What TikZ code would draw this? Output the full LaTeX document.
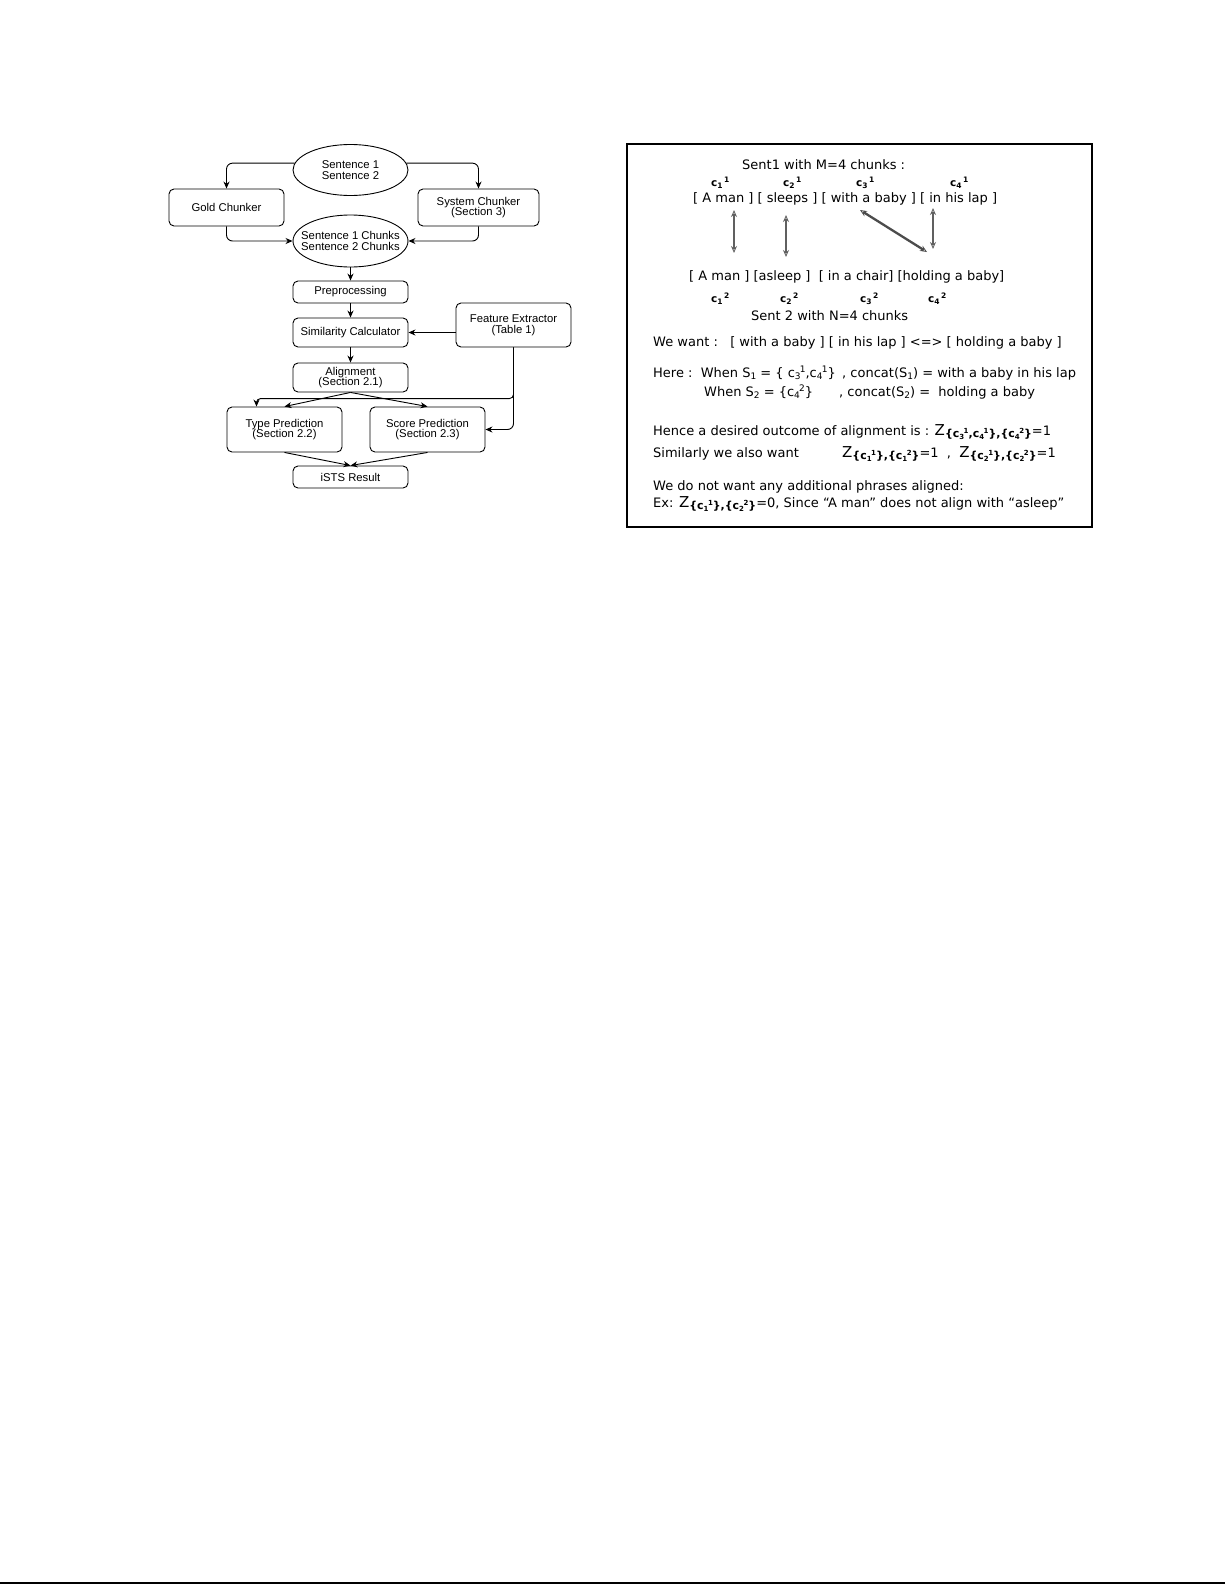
\documentclass[tikz,border=0pt]{standalone}
\usepackage{fontspec}
\setmainfont{DejaVu Sans}
\newfontfamily\flowfont{Liberation Sans}
\usetikzlibrary{shapes.geometric,arrows.meta}

\newcommand{\scr}[1]{{\fontsize{9}{9}\selectfont #1}}
\newcommand{\lowr}[1]{\raisebox{-2.5pt}{\scr{#1}}}
\newcommand{\ck}[2]{c\lowr{#1}\kern-0.8pt\raisebox{4.5pt}{\scr{#2}}}
\newcommand{\cl}[2]{\textbf{c\raisebox{-2pt}{\fontsize{7.5}{7.5}\selectfont #1}\hspace{1.5pt}\raisebox{4pt}{\fontsize{7.5}{7.5}\selectfont #2}}}
\newcommand{\zc}[2]{c\raisebox{-2pt}{\fontsize{7}{7}\selectfont #1}\kern-0.5pt\raisebox{3.5pt}{\fontsize{7}{7}\selectfont #2}}
\newcommand{\zz}[1]{{\fontsize{15}{15}\selectfont Z}\raisebox{-2pt}{\fontsize{11}{11}\selectfont\bfseries #1}}

\begin{document}
\begin{tikzpicture}[x=1pt, y=-1pt,
    flow/.style={-{Stealth[length=7pt,width=6pt]}, line width=0.9pt},
    fbox/.style={draw, rounded corners=5pt, line width=0.9pt, minimum width=115pt,
      align=center, inner sep=0pt, font=\flowfont\fontsize{11.3}{10.8}\selectfont},
    fell/.style={ellipse, draw, line width=0.9pt, minimum width=115pt, minimum height=51pt, inner sep=0pt},
    ftext/.style={align=center, inner sep=0pt, font=\flowfont\fontsize{11.3}{10.8}\selectfont},
    txt/.style={anchor=base west, inner sep=0pt, font=\fontsize{13}{15}\selectfont},
    lab/.style={anchor=base west, inner sep=0pt, font=\fontsize{10.5}{10.5}\selectfont},
    garrow/.style={{Stealth[open,length=7pt,width=6pt,line width=0.8pt]}-{Stealth[open,length=7pt,width=6pt,line width=0.8pt]},
      draw=gray!75!black, line width=1.5pt}
  ]
  \path[use as bounding box, fill=white] (0,0) rectangle (1225,1585);

  % left side
  \node[fell] at (350.5, 170) (sent) {};
  \node[ftext] at (sent) (sentt) {Sentence 1\\Sentence 2};
  \node[fbox, minimum height=37pt] at (226.5, 207.5) (gold) {Gold Chunker};
  \node[fbox, minimum width=121pt, minimum height=37pt] at (478.5, 207.5) (sys) {System Chunker\\(Section 3)};
  \node[fell, minimum height=52pt] at (350.5, 241) (chunks) {};
  \node[ftext] at (chunks) (chunkst) {Sentence 1 Chunks\\Sentence 2 Chunks};
  \node[fbox, minimum height=22pt] at (350.5, 292) (pre) {Preprocessing};
  \node[fbox, minimum height=29pt] at (350.5, 332.5) (sim) {Similarity Calculator};
  \node[fbox, minimum height=44pt] at (513.5, 325) (feat) {Feature Extractor\\(Table 1)};
  \node[fbox, minimum height=29pt] at (350.5, 377.5) (align) {Alignment\\(Section 2.1)};
  \node[fbox, minimum height=45pt] at (284.5, 429.5) (typ) {Type Prediction\\(Section 2.2)};
  \node[fbox, minimum height=45pt] at (427.5, 429.5) (score) {Score Prediction\\(Section 2.3)};
  \node[fbox, minimum height=22pt] at (350.5, 477) (ists) {iSTS Result};
  % edges
  \draw[flow, rounded corners=6pt] (sent.173) -| (gold.north);
  \draw[flow, rounded corners=6pt] (sent.7) -| (sys.north);
  \draw[flow, rounded corners=6pt] (gold.south) |- (chunks.west);
  \draw[flow, rounded corners=6pt] (sys.south) |- (chunks.east);
  \draw[flow] (chunks) -- (pre);
  \draw[flow] (pre) -- (sim);
  \draw[flow] (sim) -- (align);
  \draw[flow] (sim.east -| feat.west) -- (sim.east);
  \draw[flow, rounded corners=6pt] (feat.south) |- (score.east);
  \draw[flow, rounded corners=4pt] (feat.south) |- ([xshift=-28pt, yshift=8pt]typ.north) -- ([xshift=-28pt]typ.north);
  \draw[flow] (align.south) -- (typ.north);
  \draw[flow] (align.south) -- (score.north);
  \draw[flow] (typ.south) -- (ists.north);
  \draw[flow] (score.south) -- (ists.north);

  % right side
  \draw[line width=1.3pt] (627,144) rectangle (1092,527);
  \node[txt] at (742,169) (sone) {Sent1 with M=4 chunks :};
  \node[lab] at (711,186) (c11) {\cl{1}{1}};
  \node[lab] at (783,186) (c21) {\cl{2}{1}};
  \node[lab] at (856,186) (c31) {\cl{3}{1}};
  \node[lab] at (950,186) (c41) {\cl{4}{1}};
  \node[txt] at (693,202) (chone) {[ A man ] [ sleeps ] [ with a baby ] [ in his lap ]};
  \node[txt] at (689,280) (chtwo) {[ A man ] [asleep ]\ \ [ in a chair] [holding a baby]};
  \node[lab] at (711,302) (c12) {\cl{1}{2}};
  \node[lab] at (780,302) (c22) {\cl{2}{2}};
  \node[lab] at (860,302) (c32) {\cl{3}{2}};
  \node[lab] at (928,302) (c42) {\cl{4}{2}};
  \node[txt] at (751,320) (stwo) {Sent 2 with N=4 chunks};
  % alignment arrows
  \coordinate (aonet) at (734,210); \coordinate (aoneb) at (734,253);
  \coordinate (atwot) at (786,215); \coordinate (atwob) at (786,257);
  \coordinate (athrt) at (860,210); \coordinate (athrb) at (927,252);
  \coordinate (afout) at (933,208); \coordinate (afoub) at (933,249);
  \draw[garrow] (aonet) -- (aoneb);
  \draw[garrow] (atwot) -- (atwob);
  \draw[garrow, line width=2.3pt, draw=gray!60!black] (athrt) -- (athrb);
  \draw[garrow] (afout) -- (afoub);
  % explanation
  \node[txt] at (653,346) (want) {We want :\ \ \ [ with a baby ] [ in his lap ] <=> [ holding a baby ]};
  \node[txt] at (653,377) (here) {Here :\ \ When S\lowr{1} = \{ \ck{3}{1},\ck{4}{1}\}};
  \node[txt] at (842,377) (catone) {, concat(S\lowr{1}) = with a baby in his lap};
  \node[txt] at (704,396) (when) {When S\lowr{2} = \{\ck{4}{2}\}};
  \node[txt] at (839,396) (cattwo) {, concat(S\lowr{2}) =\ \ holding a baby};
  \node[txt] at (653,435) (hence) {Hence a desired outcome of alignment is : \zz{\{\zc{3}{1},\zc{4}{1}\},\{\zc{4}{2}\}}=1};
  \node[txt] at (653,457) (simil) {Similarly we also want};
  \node[txt] at (842,457) (zeq) {\zz{\{\zc{1}{1}\},\{\zc{1}{2}\}}=1\ \ ,\ \ \zz{\{\zc{2}{1}\},\{\zc{2}{2}\}}=1};
  \node[txt] at (653,490) (nowant) {We do not want any additional phrases aligned:};
  \node[txt] at (653,507) (ex) {Ex: \zz{\{\zc{1}{1}\},\{\zc{2}{2}\}}=0, Since “A man” does not align with “asleep”};

  \draw[line width=1.5pt] (0,1583) -- (1225,1583);
\end{tikzpicture}
\end{document}
